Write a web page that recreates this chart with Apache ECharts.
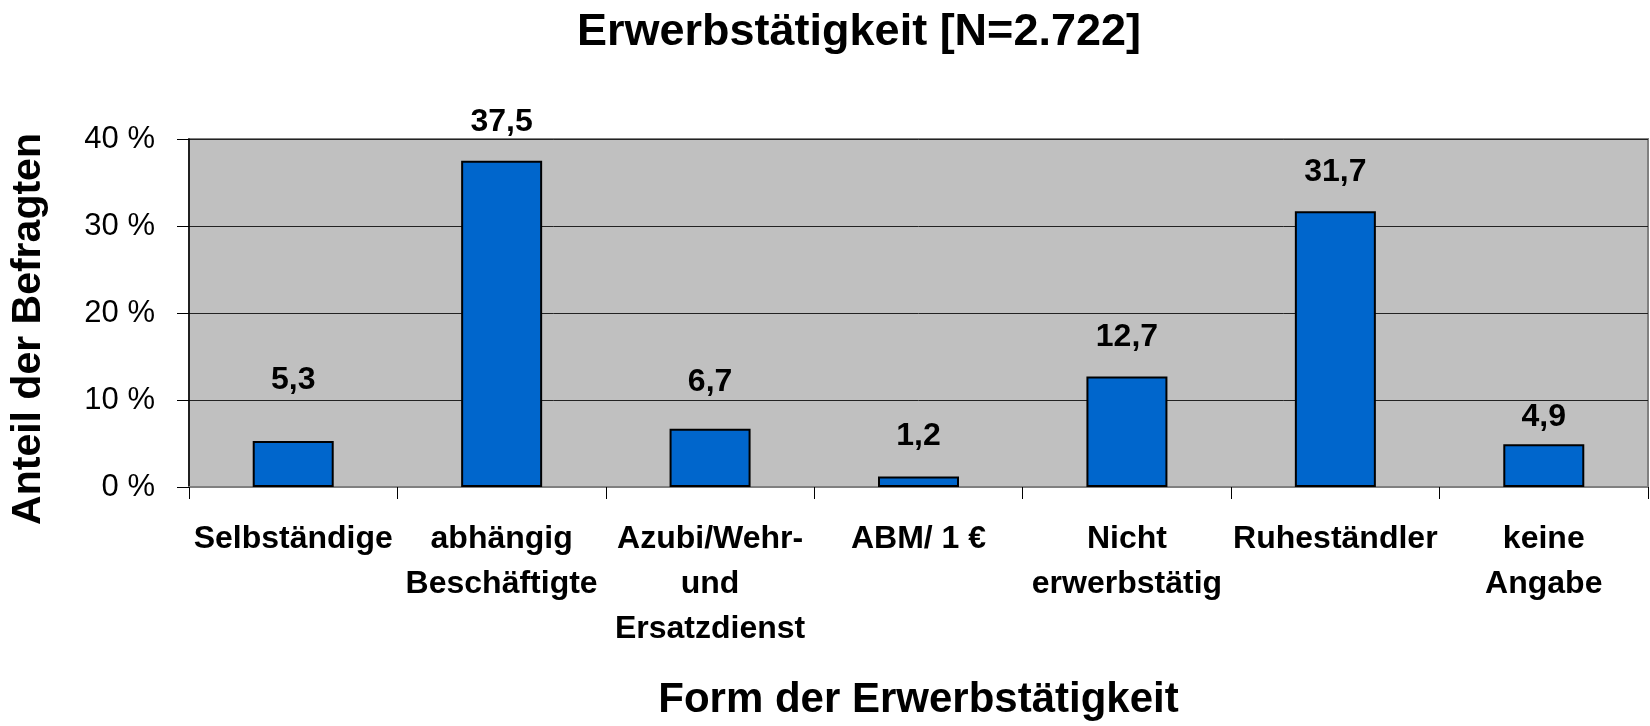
<!DOCTYPE html>
<html>
<head>
<meta charset="utf-8">
<script src="https://cdn.jsdelivr.net/npm/echarts@6/dist/echarts.min.js"></script>
<style>
html,body{margin:0;padding:0;background:#fff;}
#chart{width:1650px;height:726px;}
</style>
</head>
<body>
<div id="chart"></div>
<script>
const categories = ["Selbständige", "abhängig\nBeschäftigte", "Azubi/Wehr-\nund\nErsatzdienst", "ABM/ 1 €", "Nicht\nerwerbstätig", "Ruheständler", "keine\nAngabe"];
const values = [5.3, 37.5, 6.7, 1.2, 12.7, 31.7, 4.9];
const yTicks = [0, 10, 20, 30, 40];
const labelGap = [45, 23, 31, 24, 23, 23, 11];

const FONT = '"Liberation Sans", Arial, sans-serif';
const chart = echarts.init(document.getElementById('chart'));
chart.setOption({
  animation: false,
  backgroundColor: '#ffffff',
  title: {
    text: 'Erwerbstätigkeit [N=2.722]',
    left: 854, top: 28, textAlign: 'center', textVerticalAlign: 'middle',
    textStyle: {fontFamily: FONT, fontSize: 45, fontWeight: 'bold', color: '#000'}
  },
  grid: {
    left: 189, right: 2, top: 139, bottom: 239,
    show: true, backgroundColor: '#C0C0C0', borderColor: '#808080', borderWidth: 2
  },
  xAxis: {
    type: 'category',
    data: categories,
    name: 'Form der Erwerbstätigkeit',
    nameLocation: 'middle',
    nameGap: 192,
    nameTextStyle: {fontFamily: FONT, fontSize: 42, fontWeight: 'bold', color: '#000', verticalAlign: 'top'},
    axisLine: {show: true, lineStyle: {color: '#808080', width: 2}},
    axisTick: {show: true, length: 12, lineStyle: {color: '#000', width: 1}},
    axisLabel: {interval: 0, hideOverlap: false, margin: 30, fontFamily: FONT, fontSize: 32, fontWeight: 'bold', color: '#000', lineHeight: 45}
  },
  yAxis: {
    type: 'value',
    min: yTicks[0], max: yTicks[yTicks.length - 1], interval: 10,
    name: 'Anteil der Befragten',
    nameLocation: 'middle',
    nameGap: 140,
    nameRotate: 90,
    nameTextStyle: {fontFamily: FONT, fontSize: 41, fontWeight: 'bold', color: '#000', padding: [0, 32, 0, 0]},
    axisLine: {show: true, lineStyle: {color: '#000', width: 1.5}},
    axisTick: {show: true, length: 12, lineStyle: {color: '#000', width: 1}},
    axisLabel: {margin: 34, fontFamily: FONT, fontSize: 31, color: '#000', formatter: '{value} %'},
    splitLine: {show: true, lineStyle: {color: '#222', width: 1}}
  },
  series: [{
    type: 'bar',
    barWidth: 81,
    data: values.map((v, i) => ({
      value: v,
      label: {distance: labelGap[i]}
    })),
    itemStyle: {color: '#0066CC', borderColor: '#000', borderWidth: 2},
    label: {
      show: true, position: 'top',
      fontFamily: FONT, fontSize: 32, fontWeight: 'bold', color: '#000',
      formatter: p => p.value.toFixed(1).replace('.', ',')
    }
  }]
});
</script>
</body>
</html>
